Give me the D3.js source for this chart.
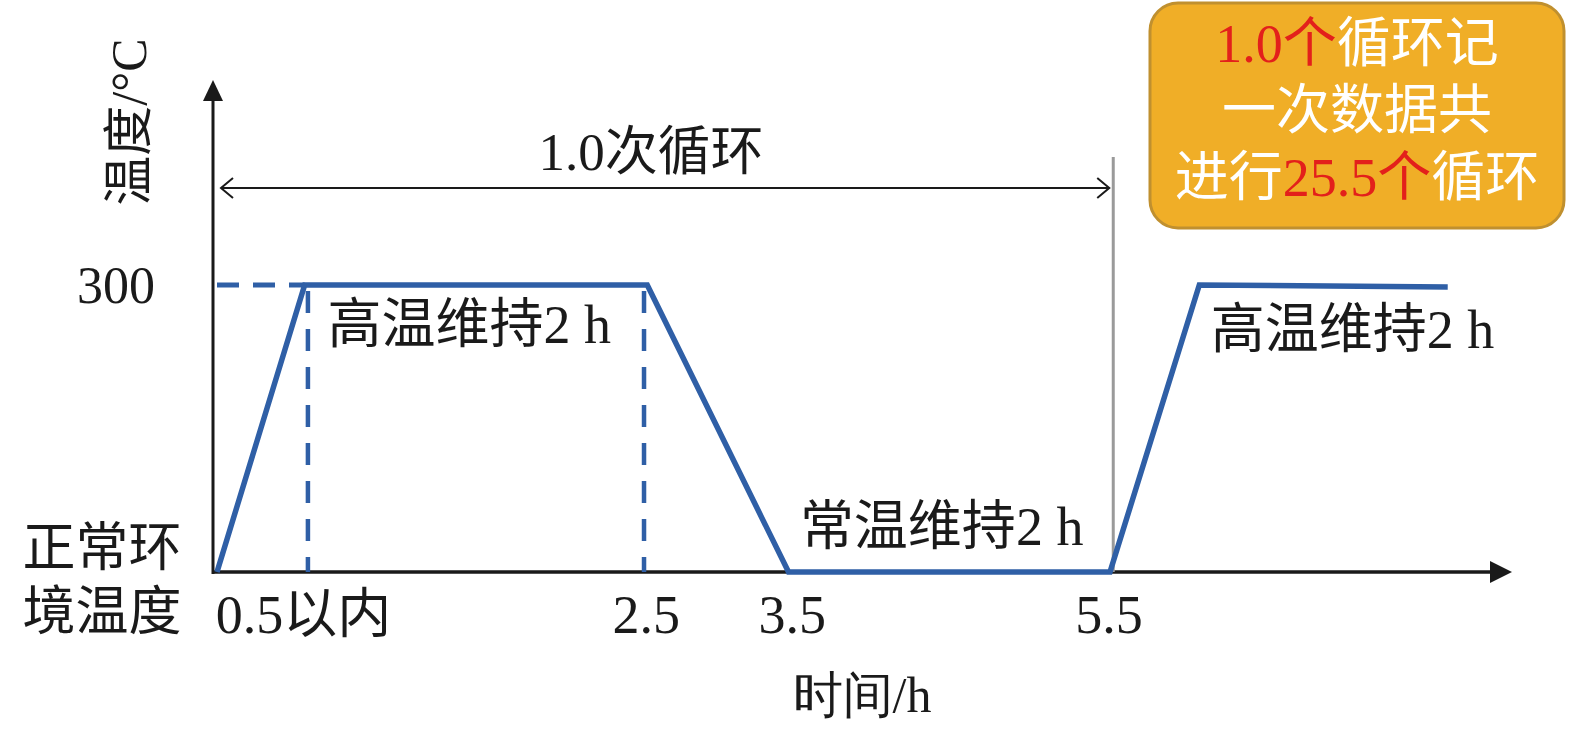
<!DOCTYPE html>
<html>
<head>
<meta charset="utf-8">
<script src="https://cdn.jsdelivr.net/npm/d3@7"></script>
<style>
  body{margin:0;background:#fff;}
  text{font-family:"Liberation Serif","Noto Sans CJK SC",serif;fill:#1a1a1a;}
  .num{font-family:"Liberation Serif",serif;}
</style>
</head>
<body>
<div class="canvas"></div>
<script>
// data
const times=[0,0.54,2.65,3.52,5.5,6.05,7.58];      // h
const temps=[25,300,300,25,25,300,298];            // °C (25 = ambient)
const tickValues=[0.53,2.64,3.54,5.49];
const tickLabels=['0.5以内','2.5','3.5','5.5'];
const guideTimes=[0.56,2.63];                      // dashed verticals
const cycleEnd=5.52;                               // end of one cycle
const holdLabels=[
  {t:0.68,temp:300,text:'高温维持2 h',dy:58},
  {t:3.59,temp:25,text:'常温维持2 h',dy:-27},
  {t:6.12,temp:300,text:'高温维持2 h',dy:63}
];

const W=1575,H=740;
const svg=d3.select('.canvas')
  .append('svg')
    .attr('width',W)
    .attr('height',H);

const x=d3.scaleLinear().domain([0,5.5]).range([217,1110]);
const y=d3.scaleLinear().domain([25,300]).range([572,285]);
const x0=213,y0=572;
const blue='#2f5fa6';

// split text so digits stay in the serif face
const addMixed=(sel,str,fill)=>{
  str.split(/([0-9.]+(?:\s*[a-zA-Z])?)/).filter(s=>s.length).forEach(s=>{
    const ts=sel.append('tspan').text(s);
    if(/[0-9a-zA-Z]/.test(s)) ts.attr('class','num');
    if(fill) ts.style('fill',fill);
  });
};

//axes
svg.append('line')
  .attr('x1',x0).attr('y1',y0+2).attr('x2',x0).attr('y2',98)
  .attr('stroke','#1a1a1a').attr('stroke-width',3);
svg.append('path')
  .attr('d',`M${x0},80 L${x0-10},101 L${x0+10},101 Z`)
  .attr('fill','#1a1a1a');
svg.append('line')
  .attr('x1',x0).attr('y1',y0).attr('x2',1494).attr('y2',y0)
  .attr('stroke','#1a1a1a').attr('stroke-width',3.5);
svg.append('path')
  .attr('d',`M1512,${y0} L1490,${y0-11} L1490,${y0+11} Z`)
  .attr('fill','#1a1a1a');

//x tick labels via axis
const xAxis=d3.axisBottom(x)
  .tickValues(tickValues)
  .tickSize(0)
  .tickFormat((d,i)=>tickLabels[i]);
const xAxisGroup=svg.append('g')
  .attr('transform',`translate(0,${y0})`)
  .call(xAxis);
xAxisGroup.select('.domain').remove();
xAxisGroup.selectAll('text')
  .attr('y',61).attr('dy',0)
  .attr('font-size',54)
  .attr('fill','#1a1a1a')
  .style('font-family','"Liberation Serif","Noto Sans CJK SC",serif');

//y labels
svg.append('text')
  .attr('x',155).attr('y',y(300)+18)
  .attr('text-anchor','end')
  .attr('font-size',52)
  .text('300');
const amb=svg.append('text')
  .attr('text-anchor','middle')
  .attr('font-size',53);
amb.append('tspan').attr('x',102).attr('y',y(25)-6).text('正常环');
amb.append('tspan').attr('x',102).attr('y',y(25)+58).text('境温度');

svg.append('text')
  .attr('transform','translate(146,122) rotate(-90)')
  .attr('text-anchor','middle')
  .attr('font-size',50)
  .call(t=>{
    t.append('tspan').text('温度');
    t.append('tspan').attr('class','num').text('/°C');
  });
svg.append('text')
  .attr('x',862).attr('y',712)
  .attr('text-anchor','middle')
  .attr('font-size',50)
  .call(t=>addMixed(t,'时间/h'));

//dashed guides
svg.append('line')
  .attr('x1',x(0)).attr('y1',y(300)).attr('x2',x(times[1])).attr('y2',y(300))
  .attr('stroke',blue).attr('stroke-width',5)
  .attr('stroke-dasharray','22,14');
svg.selectAll('.guide')
  .data(guideTimes)
  .enter().append('line')
    .attr('class','guide')
    .attr('x1',d=>x(d)).attr('x2',d=>x(d))
    .attr('y1',y(300)+6).attr('y2',y0)
    .attr('stroke',blue).attr('stroke-width',4.5)
    .attr('stroke-dasharray','22,16');

//cycle marker
svg.append('line')
  .attr('x1',x(cycleEnd)).attr('x2',x(cycleEnd))
  .attr('y1',157).attr('y2',y0)
  .attr('stroke','#9a9a9a').attr('stroke-width',3);

//profile
const line=d3.line()
  .x(d=>x(d[0]))
  .y(d=>y(d[1]));
svg.append('path')
  .datum(times.map((t,i)=>[t,temps[i]]))
  .attr('d',line)
  .attr('fill','none')
  .attr('stroke',blue)
  .attr('stroke-width',5.5)
  .attr('stroke-linejoin','miter');

//double arrow for one cycle
const ay=188,ax1=x(0)+4,ax2=x(cycleEnd)-4;
svg.append('line')
  .attr('x1',ax1).attr('x2',ax2).attr('y1',ay).attr('y2',ay)
  .attr('stroke','#1a1a1a').attr('stroke-width',2);
svg.append('path')
  .attr('d',`M${ax1+12},${ay-10} L${ax1},${ay} L${ax1+12},${ay+10}`)
  .attr('fill','none').attr('stroke','#1a1a1a').attr('stroke-width',2);
svg.append('path')
  .attr('d',`M${ax2-12},${ay-10} L${ax2},${ay} L${ax2-12},${ay+10}`)
  .attr('fill','none').attr('stroke','#1a1a1a').attr('stroke-width',2);
svg.append('text')
  .attr('x',651).attr('y',170)
  .attr('text-anchor','middle')
  .attr('font-size',53)
  .call(t=>addMixed(t,'1.0次循环'));

//hold labels
svg.selectAll('.hold')
  .data(holdLabels)
  .enter().append('text')
    .attr('class','hold')
    .attr('x',d=>x(d.t))
    .attr('y',d=>y(d.temp)+d.dy)
    .attr('font-size',54)
    .each(function(d){addMixed(d3.select(this),d.text);});

//note box
svg.append('rect')
  .attr('x',1150).attr('y',3)
  .attr('width',414).attr('height',225)
  .attr('rx',28)
  .attr('fill','#f0ae27')
  .attr('stroke','#c0902f').attr('stroke-width',3);
const red='#e3201b',white='#ffffff';
const noteLines=[
  [['1.0个',red],['循环记',white]],
  [['一次数据共',white]],
  [['进行',white],['25.5个',red],['循环',white]]
];
noteLines.forEach((parts,i)=>{
  const t=svg.append('text')
    .attr('x',1357).attr('y',62+i*67)
    .attr('text-anchor','middle')
    .attr('font-size',54);
  parts.forEach(p=>addMixed(t,p[0],p[1]));
});
</script>
</body>
</html>
